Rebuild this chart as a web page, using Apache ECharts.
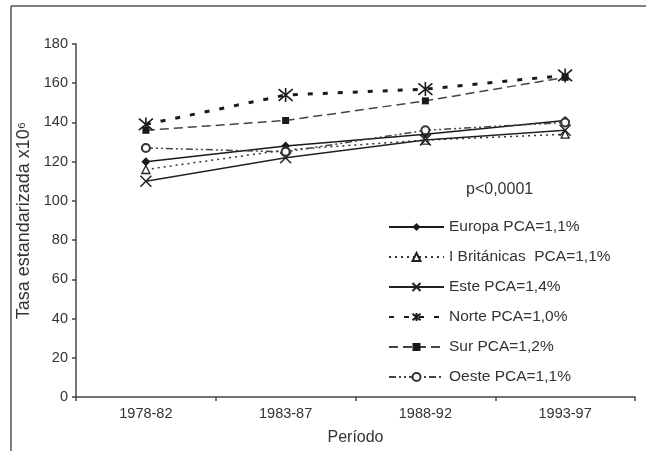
<!DOCTYPE html>
<html>
<head>
<meta charset="utf-8">
<script src="https://cdn.jsdelivr.net/npm/echarts@6/dist/echarts.min.js"></script>
<style>
  html, body { margin: 0; padding: 0; background: #fff; }
  #chart { width: 646px; height: 451px; }
</style>
</head>
<body>
<div id="chart"></div>
<script>
// Periods on the x axis
const periods = ['1978-82', '1983-87', '1988-92', '1993-97'];

// Standardised rates (x10^6) per region
const europa = [120, 128, 134, 141];
const britanicas = [116, 126, 131, 134];
const este = [110, 122, 131, 136];
const norte = [139, 154, 157, 164];
const sur = [136, 141, 151, 163];
const oeste = [127, 125, 136, 140];

// Legend labels
const names = [
  'Europa PCA=1,1%',
  'I Británicas  PCA=1,1%',
  'Este PCA=1,4%',
  'Norte PCA=1,0%',
  'Sur PCA=1,2%',
  'Oeste PCA=1,1%'
];

const yTicks = { min: 0, max: 180, interval: 20 };
const pText = 'p<0,0001';

const FONT = '"Liberation Sans", Arial, sans-serif';
const TXT = '#333';

// Stroke-only marker shapes
const crossPath = 'path://M0,0L10,10M10,0L0,10';
const starPath = 'path://M0,0L10,10M10,0L0,10M5,-1L5,11';

const chart = echarts.init(document.getElementById('chart'), null, { renderer: 'canvas' });

function lineSeries(name, data, line, sym) {
  return Object.assign({
    name: name,
    type: 'line',
    data: data,
    showSymbol: true,
    animation: false,
    lineStyle: line,
    emphasis: { disabled: true }
  }, sym);
}

chart.setOption({
  backgroundColor: '#fff',
  animation: false,
  grid: { left: 76, right: 11, top: 44, bottom: 54 },
  xAxis: {
    type: 'category',
    data: periods,
    boundaryGap: true,
    name: 'Período',
    nameLocation: 'middle',
    nameGap: 33,
    nameTextStyle: { color: TXT, fontSize: 16, fontFamily: FONT },
    axisLine: { lineStyle: { color: '#444', width: 1.5 } },
    axisTick: { show: true, length: 4, lineStyle: { color: '#444', width: 1.5 } },
    axisLabel: { color: TXT, fontSize: 14.5, fontFamily: FONT, margin: 9 },
    splitLine: { show: false }
  },
  yAxis: {
    type: 'value',
    min: yTicks.min,
    max: yTicks.max,
    interval: yTicks.interval,
    name: 'Tasa estandarizada x10\u2076',
    nameLocation: 'middle',
    nameGap: 42,
    nameTextStyle: { color: TXT, fontSize: 18, fontFamily: FONT },
    axisLine: { show: true, lineStyle: { color: '#444', width: 1.5 } },
    axisTick: { show: true, length: 4, lineStyle: { color: '#444', width: 1.5 } },
    axisLabel: { color: TXT, fontSize: 14.5, fontFamily: FONT, margin: 8 },
    splitLine: { show: false }
  },
  legend: {
    orient: 'vertical',
    left: 383,
    top: 214,
    itemWidth: 55,
    itemHeight: 10,
    itemGap: 14,
    selectedMode: false,
    textStyle: { color: TXT, fontSize: 15.5, fontFamily: FONT, lineHeight: 16 },
    data: names
  },
  graphic: [
    { type: 'line', shape: { x1: 11, y1: 6, x2: 646, y2: 6 }, style: { stroke: '#555', lineWidth: 1.5 } },
    { type: 'line', shape: { x1: 11, y1: 6, x2: 11, y2: 451 }, style: { stroke: '#555', lineWidth: 1.5 } },
    {
      type: 'text', left: 466, top: 182,
      style: { text: pText, fill: TXT, font: '16px ' + FONT }
    }
  ],
  series: [
    lineSeries(names[0], europa,
      { color: '#1a1a1a', width: 1.5, type: 'solid' },
      { symbol: 'diamond', symbolSize: 9, itemStyle: { color: '#1a1a1a' } }),
    lineSeries(names[1], britanicas,
      { color: '#333', width: 1.5, type: [2, 4] },
      { symbol: 'triangle', symbolSize: 8, itemStyle: { color: '#fff', borderColor: '#222', borderWidth: 1.3 } }),
    lineSeries(names[2], este,
      { color: '#222', width: 1.5, type: 'solid' },
      { symbol: crossPath, symbolSize: 11, itemStyle: { color: '#222', borderColor: '#222', borderWidth: 1.5 } }),
    lineSeries(names[3], norte,
      { color: '#1a1a1a', width: 3, type: [5, 10] },
      { symbol: starPath, symbolSize: 14, itemStyle: { color: '#1a1a1a', borderColor: '#1a1a1a', borderWidth: 1.6 } }),
    lineSeries(names[4], sur,
      { color: '#444', width: 1.5, type: [9, 5] },
      { symbol: 'rect', symbolSize: 7, itemStyle: { color: '#1a1a1a' } }),
    lineSeries(names[5], oeste,
      { color: '#444', width: 1.5, type: [7, 3, 2, 3, 2, 3] },
      { symbol: 'emptyCircle', symbolSize: 8, itemStyle: { color: '#333', borderWidth: 1.3 } })
  ]
});
</script>
</body>
</html>
